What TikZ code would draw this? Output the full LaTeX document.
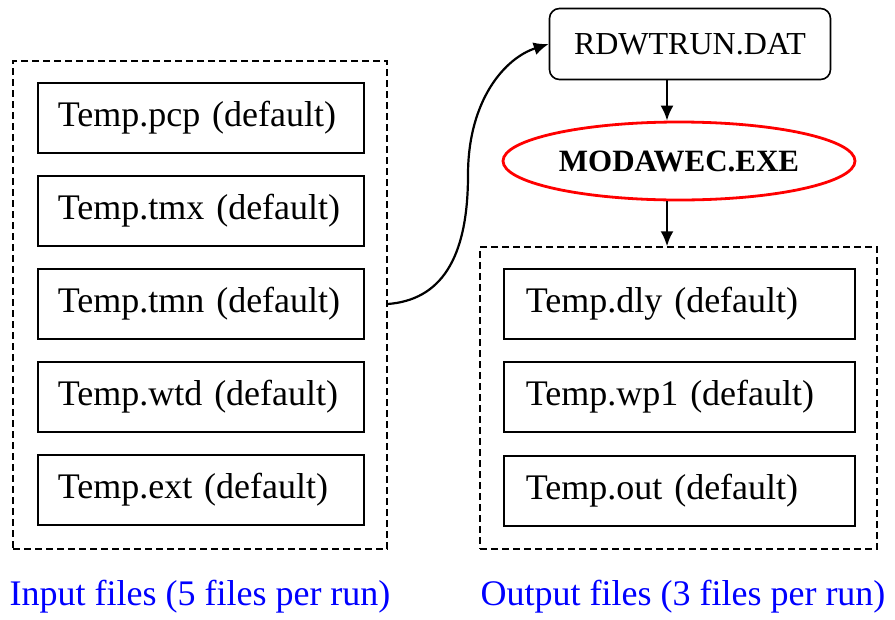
\documentclass[tikz,border=0pt]{standalone}
\usepackage{fontspec}
\setmainfont{Liberation Serif}
\usetikzlibrary{arrows.meta,shapes.geometric}
\definecolor{labelblue}{rgb}{0,0,1}
\definecolor{exered}{rgb}{1,0,0}

\tikzset{
  inbox/.style={draw,line width=1.6pt,anchor=west,minimum height=70pt,inner xsep=20pt,
    text width=286pt,align=left,font=\fontsize{36}{40}\selectfont},
  outbox/.style={inbox,inner xsep=22pt,text width=307pt},
  group/.style={draw,line width=1.5pt,dash pattern=on 7pt off 4pt,inner sep=0pt},
  flow/.style={-{Latex[length=15pt,width=13pt]},line width=2.2pt},
  runlabel/.style={text=labelblue,font=\fontsize{36}{40}\selectfont}
}

\begin{document}
\begin{tikzpicture}[x=1pt,y=-1pt]
\useasboundingbox (0,0) rectangle (895,619);

% input side
\node (ingroup) [group,minimum width=374pt,minimum height=488pt] at (200,305) {};
\node (pcp) [inbox] at (37,118) {Temp.pcp (default)};
\node (tmx) [inbox] at (37,211) {Temp.tmx (default)};
\node (tmn) [inbox] at (37,304) {Temp.tmn (default)};
\node (wtd) [inbox] at (37,397) {Temp.wtd (default)};
\node (ext) [inbox] at (37,490) {Temp.ext (default)};
\node (inlabel) [runlabel] at (200,597) {Input files (5 files per run)};

% program
\node (rdw) [draw,line width=1.6pt,rounded corners=10pt,minimum width=281pt,minimum height=71pt,
  font=\fontsize{32}{36}\selectfont] at (690,44) {RDWTRUN.DAT};
\node (exe) [ellipse,draw=exered,line width=2.8pt,minimum width=352pt,minimum height=78pt,
  font=\fontsize{31}{36}\selectfont\bfseries] at (679,161) {MODAWEC.EXE};
\coordinate (axis) at (667,0);

% output side
\node (outgroup) [group,minimum width=397pt,minimum height=302pt] at (678.5,398) {};
\node (dly) [outbox] at (503,304) {Temp.dly (default)};
\node (wp1) [outbox] at (503,397) {Temp.wp1 (default)};
\node (out) [outbox] at (503,491) {Temp.out (default)};
\node (outlabel) [runlabel] at (683,597) {Output files (3 files per run)};

% arrows
\draw [flow] (tmn -| ingroup.east) .. controls (440,300) and (468,260) .. (468,175)
  .. controls (468,100) and (505,58) .. (rdw.west);
\draw [flow] (rdw.south -| axis) -- (exe.north -| axis);
\draw [flow] (exe.south -| axis) -- (outgroup.north -| axis);
\end{tikzpicture}
\end{document}
